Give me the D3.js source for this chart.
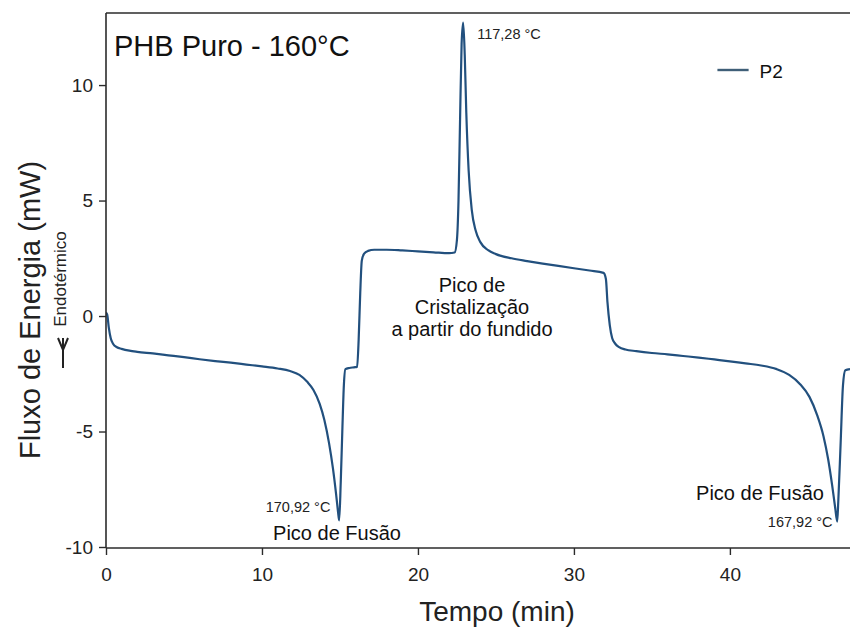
<!DOCTYPE html>
<html>
<head>
<meta charset="utf-8">
<script src="https://cdn.jsdelivr.net/npm/d3@7"></script>
<style>
  html, body { margin: 0; padding: 0; background: #fff; }
  svg { display: block; font-family: "Liberation Sans", Arial, sans-serif; }
</style>
</head>
<body>
<svg id="chart" width="850" height="633"></svg>
<script>
// ---- data ----
const tempo = [0, 0.08, 0.18, 0.3, 0.45, 0.7, 1.0, 1.5, 2, 3, 4, 5, 6, 7, 8, 9, 10, 11, 11.8, 12.4, 12.9, 13.3, 13.7, 14.0, 14.3, 14.55, 14.75, 14.88, 14.95, 15.05, 15.15, 15.25, 15.35, 15.6, 15.9, 16.1, 16.2, 16.3, 16.4, 16.55, 16.8, 17.2, 18, 19, 20, 21, 22, 22.35, 22.5, 22.6, 22.7, 22.8, 22.9, 23.0, 23.1, 23.25, 23.45, 23.7, 24.0, 24.5, 25.0, 26, 27, 28, 29, 30, 31, 31.9, 32.05, 32.15, 32.3, 32.45, 32.65, 32.9, 33.3, 34, 35, 36, 37, 38, 39, 40, 41, 42, 43, 43.8, 44.5, 45.1, 45.6, 46.0, 46.3, 46.55, 46.75, 46.88, 46.95, 47.1, 47.25, 47.4, 47.7];
const fluxoP2 = [0.15, 0.05, -0.5, -0.95, -1.2, -1.35, -1.42, -1.5, -1.55, -1.62, -1.7, -1.78, -1.87, -1.95, -2.02, -2.1, -2.18, -2.27, -2.38, -2.55, -2.85, -3.2, -3.8, -4.5, -5.5, -6.6, -7.7, -8.5, -8.85, -7.2, -5.0, -3.0, -2.3, -2.25, -2.22, -2.2, -1.0, 1.0, 2.4, 2.7, 2.82, 2.87, 2.87, 2.84, 2.8, 2.76, 2.72, 2.75, 3.3, 5.0, 8.5, 11.8, 12.7, 11.3, 8.8, 6.3, 4.6, 3.7, 3.2, 2.85, 2.68, 2.5, 2.38, 2.27, 2.17, 2.07, 1.97, 1.87, 1.6, 0.6, -0.4, -0.95, -1.2, -1.35, -1.45, -1.52, -1.6, -1.66, -1.73, -1.8, -1.88, -1.96, -2.05, -2.14, -2.3, -2.55, -2.95, -3.5, -4.3, -5.2, -6.2, -7.3, -8.3, -8.9, -8.0, -5.5, -3.0, -2.35, -2.3];
const xTicks = [0, 10, 20, 30, 40];
const yTicks = [-10, -5, 0, 5, 10];
const seriesName = "P2";
const titleText = "PHB Puro - 160°C";
const xLabel = "Tempo (min)";
const yLabel = "Fluxo de Energia (mW)";
const endoLabel = "Endotérmico";
const peakLabels = ["117,28 °C", "170,92 °C", "167,92 °C"];

// ---- layout ----
const svg = d3.select("#chart");
const pL = 106, pR = 850, pT = 13, pB = 547;
const x = d3.scaleLinear().domain([0, 47.7]).range([pL, pR]);
const y = d3.scaleLinear().domain([-10, 13.12]).range([pB, pT]);
const axisColor = "#2b2b2b";
const lineColor = "#22507e";
const fmt = d => String(d);

svg.append("defs").append("clipPath").attr("id", "clip")
  .append("rect").attr("x", pL).attr("y", pT).attr("width", pR - pL).attr("height", pB - pT + 2);

// top border
svg.append("line").attr("x1", pL).attr("x2", pR).attr("y1", pT).attr("y2", pT)
  .attr("stroke", axisColor).attr("stroke-width", 1.6);

// curve
const line = d3.line().x((d, i) => x(tempo[i])).y(d => y(d)).curve(d3.curveMonotoneX);
svg.append("path").datum(fluxoP2)
  .attr("clip-path", "url(#clip)")
  .attr("d", line)
  .attr("fill", "none").attr("stroke", lineColor).attr("stroke-width", 2.2)
  .attr("stroke-linejoin", "round");

// axes
const xAxis = d3.axisBottom(x).tickValues(xTicks).tickSize(7).tickPadding(13).tickFormat(fmt);
const gx = svg.append("g").attr("transform", `translate(0,${pB + 1})`).call(xAxis);
gx.select(".domain").attr("d", `M${pL},0H${pR}`);
const yAxis = d3.axisLeft(y).tickValues(yTicks).tickSize(7).tickPadding(6).tickFormat(fmt);
const gy = svg.append("g").attr("transform", `translate(${pL},0)`).call(yAxis);
gy.select(".domain").attr("d", `M0,${pT}V${pB + 1}`);
[gx, gy].forEach(g => {
  g.selectAll(".domain").attr("stroke", axisColor).attr("stroke-width", 1.6);
  g.selectAll(".tick line").attr("stroke", axisColor).attr("stroke-width", 1.4);
  g.selectAll(".tick text").attr("fill", "#222").attr("font-size", 19).attr("font-family", "Liberation Sans, Arial, sans-serif");
});

// axis titles
svg.append("text").attr("x", 497).attr("y", 621).attr("text-anchor", "middle")
  .attr("font-size", 28).attr("fill", "#222").text(xLabel);
svg.append("text").attr("transform", "translate(40,310) rotate(-90)").attr("text-anchor", "middle")
  .attr("font-size", 29).attr("fill", "#222").text(yLabel);
svg.append("text").attr("transform", "translate(66,279) rotate(-90)").attr("text-anchor", "middle")
  .attr("font-size", 17).attr("fill", "#222").text(endoLabel);
// endothermic arrow
svg.append("path").attr("d", "M63,338 V368 M58,338 L63,350 L68,338")
  .attr("fill", "none").attr("stroke", "#222").attr("stroke-width", 2);

// title
svg.append("text").attr("x", 114).attr("y", 56).attr("font-size", 29).attr("fill", "#111").text(titleText);

// legend
svg.append("line").attr("x1", x(39.2)).attr("x2", x(41.2)).attr("y1", 70).attr("y2", 70)
  .attr("stroke", "#3f5f78").attr("stroke-width", 2.4);
svg.append("text").attr("x", x(41.9)).attr("y", 78).attr("font-size", 19).attr("fill", "#111").text(seriesName);

// annotations
svg.append("text").attr("x", x(22.9) + 14).attr("y", 39).attr("font-size", 14.5).attr("fill", "#222").text(peakLabels[0]);
svg.append("text").attr("x", x(14.9) - 8).attr("y", 512).attr("text-anchor", "end").attr("font-size", 14.5).attr("fill", "#222").text(peakLabels[1]);
svg.append("text").attr("x", x(46.9) - 5).attr("y", 527).attr("text-anchor", "end").attr("font-size", 14.5).attr("fill", "#222").text(peakLabels[2]);
svg.append("text").attr("x", 337).attr("y", 540).attr("text-anchor", "middle").attr("font-size", 20).attr("fill", "#111").text("Pico de Fusão");
svg.append("text").attr("x", 760).attr("y", 500).attr("text-anchor", "middle").attr("font-size", 20).attr("fill", "#111").text("Pico de Fusão");
const cryst = ["Pico de", "Cristalização", "a partir do fundido"];
svg.append("text").attr("text-anchor", "middle").attr("font-size", 20).attr("fill", "#111")
  .selectAll("tspan").data(cryst).join("tspan")
  .attr("x", 472).attr("y", (d, i) => 292 + i * 22).text(d => d);
</script>
</body>
</html>
